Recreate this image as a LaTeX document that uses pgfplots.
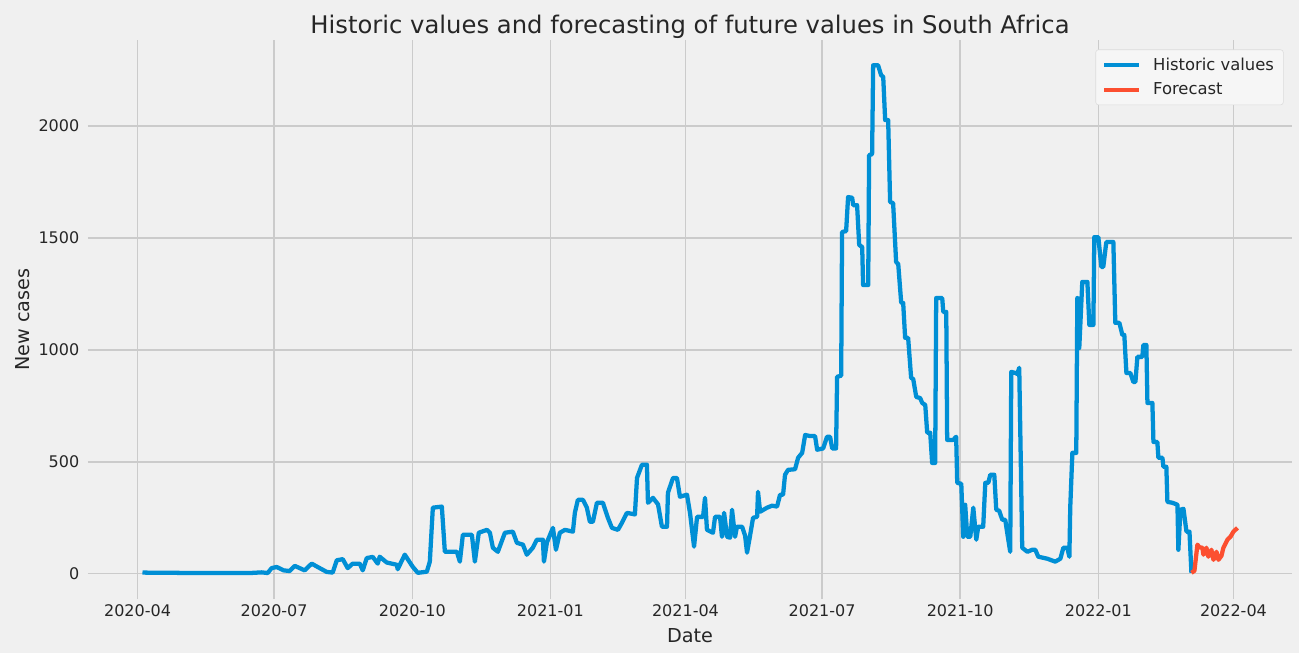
\documentclass[border=0pt]{standalone}
\usepackage{pgfplots}
\pgfplotsset{compat=1.18}
\usepackage{fontspec}
\setmainfont{DejaVu Sans}
\definecolor{bgc}{HTML}{F0F0F0}
\definecolor{gridc}{HTML}{CBCBCB}
\definecolor{histc}{HTML}{008FD5}
\definecolor{fcc}{HTML}{FC4F30}
\begin{document}
\begin{tikzpicture}
\fill[bgc] (-66pt,-40.5pt) rectangle (908.25pt,449.25pt);
\begin{axis}[
  scale only axis,
  width=903pt, height=419.25pt,
  xmin=-33, xmax=769, ymin=-113, ymax=2385,
  axis background/.style={fill=bgc},
  axis line style={draw=none},
  major tick length=0pt,
  grid=major,
  grid style={draw=gridc, line width=1.1pt},
  xtick={0,91,183,275,365,456,548,640,730},
  xticklabels={2020-04,2020-07,2020-10,2021-01,2021-04,2021-07,2021-10,2022-01,2022-04},
  ytick={0,500,1000,1500,2000},
  /pgf/number format/assume math mode=true,
  /pgf/number format/1000 sep={},
  tick label style={font=\fontsize{12}{14}\selectfont, text=black!85},
  xticklabel style={yshift=-0.75pt},
  yticklabel style={xshift=-3pt},
  xlabel={Date}, ylabel={New cases},
  label style={font=\fontsize{14.4}{16}\selectfont, text=black!85},
  xlabel style={yshift=-2pt},
  title={Historic values and forecasting of future values in South Africa},
  title style={font=\fontsize{18.2}{20}\selectfont, text=black!85, yshift=-8.5pt},
  legend style={at={(0.993,0.983)}, anchor=north east, fill=bgc!60!white, draw=gridc!70, rounded corners=2pt, font=\fontsize{12.3}{14}\selectfont, text=black!85, row sep=4pt, inner xsep=5pt, inner ysep=4pt},
  legend cell align=left,
  legend image code/.code={\draw[line width=3pt,#1] (0pt,0pt) -- (26pt,0pt); \path (33pt,0pt);},
]
\addplot[histc, line width=3.2pt, line join=round] coordinates {
(3.3,5)(41.3,3)(74.7,3)(82.7,6)(86.7,3)(89.3,25)(92.7,30)(97.3,15)(101.3,12)(104.7,35)
(108,25)(111.3,15)(116,45)(120,30)(126,8)(130,5)(132.7,60)(136.7,65)(140,25)(143.3,45)
(148,45)(150,15)(152.7,70)(156.7,75)(160,45)(161.3,76)(166,50)(172.7,40)(173.3,20)(178,85)
(183.3,31)(186.7,4)(192.7,9)(194.7,54)(196.7,295)(202.7,300)(204.7,98)(212.7,98)(214.7,54)(216.7,174)
(222.7,174)(224.7,54)(227.3,183)(232.7,196)(234.7,183)(236.7,116)(240,98)(244.7,183)(250,188)(252.7,138)
(256.7,130)(259.3,85)(263.3,116)(266,152)(270,152)(270.7,54)(272.7,140)(276.7,205)(278.7,107)(281.3,183)
(284.7,196)(290,188)(291.3,272)(293.3,330)(296.7,330)(299.3,295)(301.3,232)(303.3,232)(306,317)(310,317)
(313.3,250)(316,205)(320,196)(322.7,228)(326,272)(331.3,265)(332.7,428)(336,487)(339.3,487)(340,317)
(343.3,339)(346.7,310)(349.3,210)(352.7,210)(353.3,362)(356.7,428)(359.3,428)(361.3,344)(366,353)(368,272)
(370.7,121)(372.7,254)(376.7,254)(378,339)(379.3,196)(383.3,183)(384.7,254)(388,254)(389.3,165)(390.7,272)
(392.7,165)(394.7,161)(396,286)(398,165)(399.3,210)(402.7,210)(404.7,170)(406,94)(408,170)(410,250)
(412.7,254)(413.3,366)(414.7,277)(419.3,295)(422.7,304)(426,300)(428,353)(430,353)(431.3,442)(433.3,464)
(438,467)(440,518)(442.7,540)(444.7,620)(448,615)(451.3,615)(452.7,554)(456.7,560)(459.3,612)(461.3,612)
(462.7,560)(465.3,560)(466,880)(468.7,885)(469.3,1527)(472,1531)(473.3,1683)(476,1680)(476.7,1647)(479.3,1647)
(480.7,1469)(482.7,1460)(483.3,1290)(486.7,1290)(487.3,1870)(489.3,1875)(490,2272)(493.3,2272)(495.3,2228)(496.7,2220)
(498,2027)(500,2027)(501.3,1661)(503.3,1656)(505.3,1393)(506.7,1384)(508.7,1210)(510,1210)(511.3,1054)(513.3,1054)
(515.3,875)(516.7,870)(518.7,790)(521.3,785)(522.7,763)(524.7,754)(526,630)(528,630)(529.3,495)(531.3,495)
(532,1232)(536,1232)(536.7,1170)(538.7,1170)(539.3,598)(543.3,598)(545.3,612)(546,406)(548.7,402)(550,165)
(551.3,308)(552.7,165)(554.7,165)(556.7,295)(558.7,152)(560,210)(563.3,210)(564.7,406)(566.7,406)(568,442)
(570.7,442)(572,286)(574,281)(576,241)(578,241)(579.3,183)(581.3,98)(582,902)(584.7,897)(586,893)
(587.3,920)(589.3,116)(592.7,98)(596,107)(598,107)(600,76)(606,67)(611.3,54)(614.7,67)(616.7,116)
(619.3,116)(620.7,76)(621.3,299)(622.7,540)(625.3,540)(626,1232)(627.3,1009)(629.3,1304)(632.7,1304)(634,1112)
(636.7,1112)(637.3,1504)(640,1504)(642,1371)(643.3,1371)(645.3,1482)(650,1482)(651.3,1121)(654,1121)(656,1067)
(657.3,1067)(658.7,897)(661.3,897)(663.3,857)(664.7,857)(666,969)(669.3,969)(670,1022)(672,1022)(672.7,763)
(676,763)(676.7,589)(679.3,589)(680,518)(682.7,518)(683.3,478)(685.3,478)(686,321)(689.3,317)(691.3,312)
(692.7,308)(693.3,107)(694.7,286)(696.7,290)(698.7,188)(700.7,188)(702,4)
};
\addlegendentry{Historic values}
\addplot[fcc, line width=3.2pt, line join=round] coordinates {
(702,4)(704,13)(706,130)(707.3,118)(709.3,116)(710,85)(712,116)(713.3,76)(715.3,107)(716.7,62)
(718.7,98)(720,62)(722,80)(723.3,116)(726,152)(728,165)(730,188)(732.7,205)
};
\addlegendentry{Forecast}
\end{axis}
\end{tikzpicture}
\end{document}
